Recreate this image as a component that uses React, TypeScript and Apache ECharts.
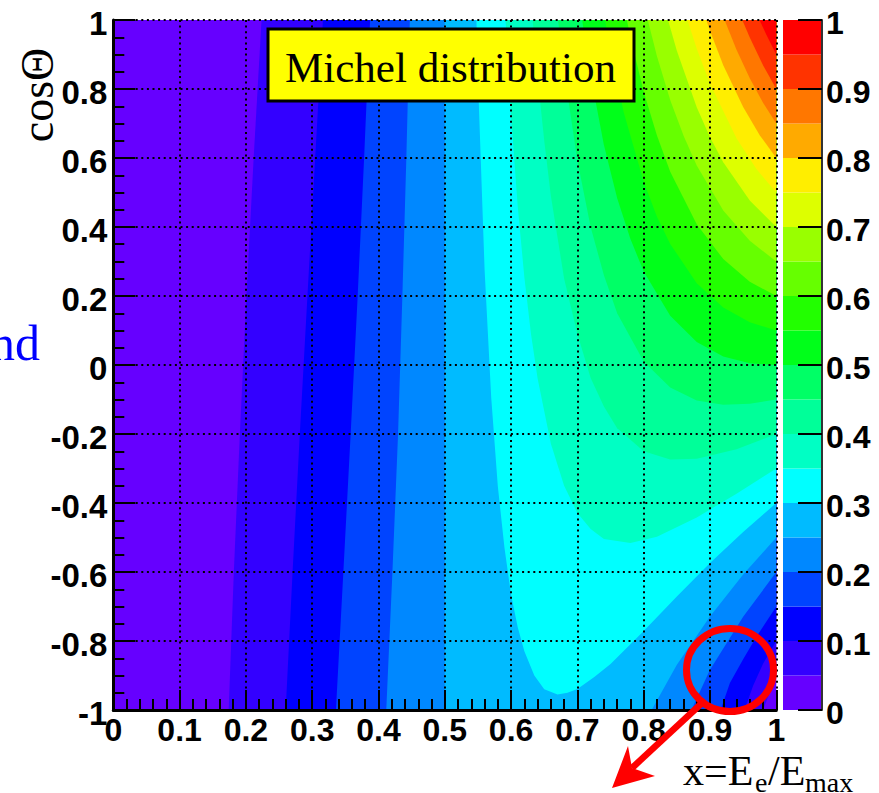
import React, { useEffect, useRef } from "react";
import * as echarts from "echarts";

const levels = [0, 0.05, 0.1, 0.15, 0.2, 0.25, 0.3, 0.35, 0.4, 0.45, 0.5, 0.55, 0.6, 0.65, 0.7, 0.75, 0.8, 0.85, 0.9, 0.95];
const bandColors = ["#6600ff", "#3300ff", "#0000ff", "#0044ff", "#0088ff", "#00bbff", "#00ffff", "#00ffc4", "#00ff99", "#00ff66", "#00ff1a", "#22ff00", "#66ff00", "#99ff00", "#ddff00", "#ffee00", "#ffaa00", "#ff7700", "#ff3300", "#ff0000"];

const contour00 = [[0, 1], [0, -1], [1, -1], [1, 1]];
const contour05 = [[0.2236, 1], [0.2117, 0.6], [0.2008, 0.2], [0.1909, -0.2], [0.1818, -0.6], [0.174, -1], [0.98, -1], [0.99, -0.95], [1, -0.9], [1, 1]];
const contour10 = [[0.3162, 1], [0.3045, 0.6], [0.2928, 0.2], [0.2813, -0.2], [0.2704, -0.6], [0.26, -1], [0.952, -1], [0.965, -0.93], [0.98, -0.866], [1, -0.8], [1, 1]];
const contour15 = [[0.3873, 1], [0.3783, 0.6], [0.3686, 0.2], [0.358, -0.2], [0.347, -0.6], [0.3358, -1], [0.916, -1], [0.93, -0.922], [0.95, -0.853], [0.97, -0.788], [1, -0.7], [1, 1]];
const contour20 = [[0.4472, 1], [0.442, 0.6], [0.436, 0.2], [0.4295, -0.2], [0.421, -0.6], [0.4117, -1], [0.872, -1], [0.9, -0.883], [0.95, -0.73], [1, -0.6], [1, 1]];
const contour25 = [[0.5, 1], [0.5, -1], [0.812, -1], [0.85, -0.869], [0.9, -0.729], [0.95, -0.607], [1, -0.5], [1, 1]];
const contour30 = [[0.5477, 1], [0.55, 0.83], [0.56, 0.277], [0.57, -0.094], [0.58, -0.352], [0.59, -0.53], [0.6, -0.667], [0.61, -0.76], [0.62, -0.83], [0.635, -0.9], [0.65, -0.94], [0.67, -0.955], [0.685, -0.95], [0.7, -0.939], [0.725, -0.905], [0.75, -0.867], [0.8, -0.771], [0.85, -0.671], [0.9, -0.574], [0.95, -0.484], [1, -0.4], [1, 1]];
const contour35 = [[0.5916, 1], [0.6, 0.722], [0.61, 0.46], [0.62, 0.254], [0.63, 0.09], [0.64, -0.039], [0.66, -0.228], [0.68, -0.35], [0.7, -0.429], [0.72, -0.475], [0.74, -0.504], [0.78, -0.516], [0.82, -0.498], [0.88, -0.442], [0.94, -0.373], [1, -0.3], [1, 1]];
const contour40 = [[0.6325, 1], [0.64, 0.833], [0.65, 0.65], [0.66, 0.49], [0.68, 0.25], [0.7, 0.09], [0.72, -0.038], [0.74, -0.12], [0.76, -0.183], [0.8, -0.25], [0.84, -0.274], [0.88, -0.272], [0.94, -0.244], [1, -0.2], [1, 1]];
const contour45 = [[0.6708, 1], [0.68, 0.851], [0.7, 0.592], [0.72, 0.4], [0.74, 0.26], [0.76, 0.15], [0.8, 0.01], [0.84, -0.065], [0.88, -0.103], [0.92, -0.115], [0.96, -0.112], [1, -0.1], [1, 1]];
const contour50 = [[0.7071, 1], [0.72, 0.839], [0.74, 0.638], [0.76, 0.483], [0.78, 0.365], [0.8, 0.271], [0.84, 0.143], [0.88, 0.067], [0.92, 0.025], [0.96, 0.005], [1, 0], [1, 1]];
const contour55 = [[0.7416, 1], [0.75, 0.911], [0.77, 0.731], [0.8, 0.531], [0.82, 0.43], [0.84, 0.351], [0.88, 0.237], [0.92, 0.167], [0.96, 0.124], [1, 0.1], [1, 1]];
const contour60 = [[0.7746, 1], [0.78, 0.95], [0.8, 0.792], [0.82, 0.665], [0.84, 0.56], [0.88, 0.408], [0.92, 0.307], [0.96, 0.241], [1, 0.2], [1, 1]];
const contour65 = [[0.8062, 1], [0.82, 0.895], [0.84, 0.768], [0.86, 0.665], [0.88, 0.578], [0.92, 0.448], [0.96, 0.36], [1, 0.3], [1, 1]];
const contour70 = [[0.8367, 1], [0.85, 0.911], [0.88, 0.747], [0.9, 0.66], [0.92, 0.588], [0.96, 0.477], [1, 0.4], [1, 1]];
const contour75 = [[0.866, 1], [0.88, 0.917], [0.9, 0.815], [0.94, 0.657], [0.97, 0.568], [1, 0.5], [1, 1]];
const contour80 = [[0.8944, 1], [0.9, 0.969], [0.92, 0.869], [0.95, 0.748], [0.975, 0.666], [1, 0.6], [1, 1]];
const contour85 = [[0.922, 1], [0.94, 0.914], [0.96, 0.831], [0.98, 0.76], [1, 0.7], [1, 1]];
const contour90 = [[0.9487, 1], [0.96, 0.949], [0.98, 0.869], [1, 0.8], [1, 1]];
const contour95 = [[0.9747, 1], [0.985, 0.957], [1, 0.9], [1, 1]];
const contours = [contour00, contour05, contour10, contour15, contour20, contour25, contour30, contour35, contour40, contour45, contour50, contour55, contour60, contour65, contour70, contour75, contour80, contour85, contour90, contour95];

const fmt = (v: number) => String(+v.toFixed(1));
const SANS = '"Liberation Sans", Arial, sans-serif';
const SERIF = '"Liberation Serif", "Times New Roman", serif';

export default function App() {
  const ref = useRef<HTMLDivElement>(null);
  useEffect(() => {
    const chart = echarts.init(ref.current!, undefined, { renderer: "svg" });
    const dotted = { color: "#000", width: 2, type: [2, 3.6] as any, opacity: 1 };
    const axisLine = { show: true, onZero: false, lineStyle: { color: "#000", width: 3 } };
    chart.setOption({
      animation: false,
      backgroundColor: "#fff",
      grid: [
        { left: 113.3, top: 20, width: 663, height: 690, containLabel: false },
        { left: 783, top: 20, width: 39, height: 690, containLabel: false },
      ],
      xAxis: [
        {
          type: "value", gridIndex: 0, min: 0, max: 1, interval: 0.1, z: 5,
          axisLine,
          axisTick: { show: true, inside: true, length: 20, lineStyle: { color: "#000", width: 2 } },
          minorTick: { show: true, splitNumber: 5, length: 11, lineStyle: { color: "#000", width: 2 } },
          splitLine: { show: true, lineStyle: dotted },
          axisLabel: { show: true, margin: 4, formatter: fmt, fontFamily: SANS, fontWeight: "bold", fontSize: 32, color: "#000", showMinLabel: true, showMaxLabel: true, hideOverlap: false },
        },
        { type: "value", gridIndex: 1, min: 0, max: 1, show: false },
      ],
      yAxis: [
        {
          type: "value", gridIndex: 0, min: -1, max: 1, interval: 0.2, z: 5,
          axisLine,
          axisTick: { show: true, inside: true, length: 22, lineStyle: { color: "#000", width: 2 } },
          minorTick: { show: true, splitNumber: 4, length: 11, lineStyle: { color: "#000", width: 2 } },
          splitLine: { show: true, lineStyle: dotted },
          axisLabel: { show: true, margin: 6, verticalAlign: "top", lineHeight: 6, formatter: fmt, fontFamily: SANS, fontWeight: "bold", fontSize: 33, color: "#000", showMinLabel: true, showMaxLabel: true, hideOverlap: false },
        },
        {
          type: "value", gridIndex: 1, min: 0, max: 1, interval: 0.1, position: "right", z: 5,
          axisLine: { show: true, onZero: false, lineStyle: { color: "#333", width: 2 } },
          axisTick: { show: true, inside: true, length: 24, lineStyle: { color: "#000", width: 2 } },
          splitLine: { show: false },
          axisLabel: { show: true, margin: 4, verticalAlign: "top", lineHeight: 6, formatter: fmt, fontFamily: SANS, fontWeight: "bold", fontSize: 32, color: "#000", showMinLabel: true, showMaxLabel: true, hideOverlap: false },
        },
      ],
      series: [
        {
          type: "custom",
          name: "Michel distribution",
          xAxisIndex: 0,
          yAxisIndex: 0,
          data: levels.map((l) => [l, l]),
          renderItem: (params: any, api: any) => ({
            type: "polygon",
            shape: { points: contours[params.dataIndex].map((p) => api.coord(p)) },
            style: { fill: bandColors[params.dataIndex] },
          }),
        },
        {
          type: "custom",
          name: "palette",
          xAxisIndex: 1,
          yAxisIndex: 1,
          data: levels.map((l) => [0.5, l]),
          renderItem: (params: any, api: any) => {
            const lo = api.coord([0, api.value(1)]);
            const hi = api.coord([1, api.value(1) + 0.05]);
            return {
              type: "rect",
              shape: { x: lo[0], y: hi[1], width: hi[0] - lo[0], height: lo[1] - hi[1] },
              style: { fill: bandColors[params.dataIndex] },
            };
          },
        },
      ],
      graphic: [
        { type: "rect", z: 100, shape: { x: 268, y: 29, width: 366, height: 72 }, style: { fill: "#ffff00", stroke: "#000", lineWidth: 3 } },
        { type: "text", z: 101, x: 450.5, y: 67, style: { text: "Michel distribution", font: `43px ${SERIF}`, fill: "#000", textAlign: "center", textVerticalAlign: "middle" } },
        { type: "text", z: 101, x: 37, y: 95, rotation: Math.PI / 2, style: { text: "cosΘ", font: `46px ${SERIF}`, fill: "#000", textAlign: "center", textVerticalAlign: "middle" } },
        { type: "text", z: 101, x: -10, y: 318, style: { text: "nd", font: `50px ${SERIF}`, fill: "#0000ff", textAlign: "left", textVerticalAlign: "top" } },
        { type: "text", z: 101, x: 683, y: 750, style: { text: "x=E", font: `42px ${SERIF}`, fill: "#000", textAlign: "left", textVerticalAlign: "top" } },
        { type: "text", z: 101, x: 755, y: 768, style: { text: "e", font: `28px ${SERIF}`, fill: "#000", textAlign: "left", textVerticalAlign: "top" } },
        { type: "text", z: 101, x: 768, y: 750, style: { text: "/E", font: `42px ${SERIF}`, fill: "#000", textAlign: "left", textVerticalAlign: "top" } },
        { type: "text", z: 101, x: 805, y: 768, style: { text: "max", font: `28px ${SERIF}`, fill: "#000", textAlign: "left", textVerticalAlign: "top" } },
        { type: "ellipse", z: 102, shape: { cx: 730, cy: 670, rx: 43.5, ry: 41.5 }, style: { fill: "none", stroke: "#ff0000", lineWidth: 7 } },
        { type: "line", z: 102, shape: { x1: 702, y1: 703, x2: 632, y2: 768 }, style: { stroke: "#ff0000", lineWidth: 6.5 } },
        { type: "polygon", z: 102, shape: { points: [[612, 788], [628, 746], [632, 768], [655, 776]] }, style: { fill: "#ff0000" } },
      ],
    });
    return () => chart.dispose();
  }, []);
  return <div ref={ref} style={{ position: "fixed", left: 0, top: 0, width: 879, height: 793 }} />;
}
